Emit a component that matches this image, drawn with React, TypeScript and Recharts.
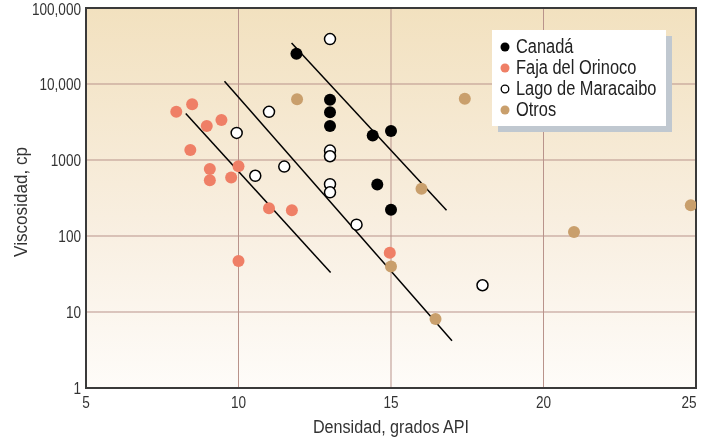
import { ScatterChart, Scatter, XAxis, YAxis, CartesianGrid, ReferenceArea, Legend } from 'recharts';

// densidad (API) vs viscosidad (cp)
const canada = [
  { x: 11.9, y: 25000 },
  { x: 13, y: 6200 },
  { x: 13, y: 4250 },
  { x: 13, y: 2800 },
  { x: 14.4, y: 2100 },
  { x: 15, y: 2400 },
  { x: 14.55, y: 475 },
  { x: 15, y: 222 },
];

const orinoco = [
  { x: 7.96, y: 4300 },
  { x: 8.48, y: 5400 },
  { x: 8.96, y: 2800 },
  { x: 9.44, y: 3350 },
  { x: 8.42, y: 1350 },
  { x: 9.06, y: 760 },
  { x: 9.06, y: 540 },
  { x: 9.76, y: 590 },
  { x: 10, y: 830 },
  { x: 11, y: 231 },
  { x: 11.75, y: 218 },
  { x: 10, y: 47 },
  { x: 14.96, y: 60 },
];

const maracaibo = [
  { x: 13, y: 39000 },
  { x: 11, y: 4300 },
  { x: 9.94, y: 2270 },
  { x: 10.55, y: 620 },
  { x: 11.5, y: 820 },
  { x: 13, y: 1330 },
  { x: 13, y: 1120 },
  { x: 13, y: 480 },
  { x: 13, y: 375 },
  { x: 13.87, y: 141 },
  { x: 18, y: 22.5 },
];

const otros = [
  { x: 11.92, y: 6300 },
  { x: 17.42, y: 6400 },
  { x: 16, y: 420 },
  { x: 24.83, y: 254 },
  { x: 21, y: 113 },
  { x: 15, y: 39.6 },
  { x: 16.46, y: 8.1 },
];

// trend lines
const trend1 = [
  { x: 8.27, y: 4100 },
  { x: 13.02, y: 33 },
];
const trend2 = [
  { x: 9.54, y: 10900 },
  { x: 17, y: 4.2 },
];
const trend3 = [
  { x: 11.74, y: 34600 },
  { x: 16.82, y: 218 },
];

const xTicks = [5, 10, 15, 20, 25];
const yTicks = [1, 10, 100, 1000, 10000, 100000];

const series = [
  { name: 'Canadá', data: canada, fill: '#000000', stroke: 'none' },
  { name: 'Faja del Orinoco', data: orinoco, fill: '#ef7f66', stroke: 'none' },
  { name: 'Lago de Maracaibo', data: maracaibo, fill: '#ffffff', stroke: '#000000' },
  { name: 'Otros', data: otros, fill: '#c99f6c', stroke: 'none' },
];

// no condensed face installed, so squeeze Liberation Sans horizontally
const FONT = "'Liberation Sans', Arial, sans-serif";
const TEXT = '#333';

const makeDot = (fill: string, stroke: string) => (props: any) => {
  const { cx, cy } = props;
  return (
    <circle
      cx={cx}
      cy={cy}
      r={stroke === 'none' ? 6 : 5.5}
      fill={fill}
      stroke={stroke}
      strokeWidth={1.5}
    />
  );
};

const noDot = () => <g />;

const formatY = (v: number) => (v >= 10000 ? v.toLocaleString('en-US') : String(v));

const XTick = (props: any) => {
  const { x, y, payload } = props;
  // last label sits a bit inside the frame
  const dx = payload.value === 25 ? -5 : 0;
  return (
    <g transform={`translate(${x + dx},${y})`}>
      <text transform="scale(0.8,1)" textAnchor="middle" dy="0.71em" fontSize={17} fill={TEXT} fontFamily={FONT}>
        {payload.value}
      </text>
    </g>
  );
};

const YTick = (props: any) => {
  const { x, y, payload } = props;
  return (
    <g transform={`translate(${x},${y})`}>
      <text transform="scale(0.8,1)" textAnchor="end" dy="0.355em" fontSize={17} fill={TEXT} fontFamily={FONT}>
        {formatY(payload.value)}
      </text>
    </g>
  );
};

const renderLegend = () => (
  <div
    style={{
      background: '#fff',
      boxShadow: '6px 6px 0 #c0c8d0',
      padding: '6px 0',
      fontFamily: FONT,
      fontSize: 20,
      color: '#222',
      whiteSpace: 'nowrap',
    }}
  >
    {series.map((s) => (
      <div key={s.name} style={{ display: 'flex', alignItems: 'center', height: 21, lineHeight: '21px' }}>
        <svg width={10} height={10} style={{ marginLeft: 8, marginRight: 6, flex: 'none' }}>
          <circle
            cx={5}
            cy={5}
            r={s.stroke === 'none' ? 4.5 : 3.8}
            fill={s.fill}
            stroke={s.stroke}
            strokeWidth={1.3}
          />
        </svg>
        <span style={{ display: 'inline-block', transform: 'scaleX(0.82)', transformOrigin: 'left center' }}>
          {s.name}
        </span>
      </div>
    ))}
  </div>
);

export default function App() {
  return (
    <div style={{ position: 'fixed', left: 0, top: 0, width: 702, height: 443 }}>
      <ScatterChart width={702} height={443} margin={{ top: 8, right: 6, bottom: 0, left: 0 }}>
        <defs>
          <linearGradient id="bgGrad" x1="0" y1="0" x2="0" y2="1">
            <stop offset="0%" stopColor="#f2e1bf" />
            <stop offset="55%" stopColor="#f8eedf" />
            <stop offset="100%" stopColor="#fefcf9" />
          </linearGradient>
        </defs>
        <CartesianGrid stroke="#b9938b" strokeWidth={1} fill="url(#bgGrad)" />
        <XAxis
          type="number"
          dataKey="x"
          domain={[5, 25]}
          ticks={xTicks}
          height={55}
          axisLine={false}
          tickLine={false}
          tick={<XTick />}
          allowDataOverflow
          label={{
            value: 'Densidad, grados API',
            position: 'insideBottom',
            content: (p: any) => {
              const vb = p.viewBox;
              const cx = vb.x + vb.width / 2;
              const cy = 433;
              return (
                <g transform={`translate(${cx},${cy})`}>
                  <text transform="scale(0.85,1)" textAnchor="middle" fontSize={19} fill={TEXT} fontFamily={FONT}>
                    Densidad, grados API
                  </text>
                </g>
              );
            },
          }}
        />
        <YAxis
          type="number"
          dataKey="y"
          scale="log"
          domain={[1, 100000]}
          ticks={yTicks}
          width={86}
          axisLine={false}
          tickLine={false}
          tickSize={3}
          tick={<YTick />}
          allowDataOverflow
          label={{
            value: 'Viscosidad, cp',
            position: 'insideLeft',
            content: (p: any) => {
              const vb = p.viewBox;
              const cx = 27;
              const cy = vb.y + vb.height / 2 + 4;
              return (
                <g transform={`translate(${cx},${cy}) rotate(-90)`}>
                  <text transform="scale(0.9,1)" textAnchor="middle" fontSize={19} fill={TEXT} fontFamily={FONT}>
                    Viscosidad, cp
                  </text>
                </g>
              );
            },
          }}
        />
        <Scatter data={trend1} line={{ stroke: '#000', strokeWidth: 1.5 }} shape={noDot} legendType="none" isAnimationActive={false} />
        <Scatter data={trend2} line={{ stroke: '#000', strokeWidth: 1.5 }} shape={noDot} legendType="none" isAnimationActive={false} />
        <Scatter data={trend3} line={{ stroke: '#000', strokeWidth: 1.5 }} shape={noDot} legendType="none" isAnimationActive={false} />
        {series.map((s) => (
          <Scatter
            key={s.name}
            name={s.name}
            data={s.data}
            fill={s.fill}
            shape={makeDot(s.fill, s.stroke)}
            isAnimationActive={false}
          />
        ))}
        <ReferenceArea
          x1={5}
          x2={25}
          y1={1}
          y2={100000}
          fill="none"
          stroke="#3a3a3a"
          strokeWidth={2}
          ifOverflow="visible"
        />
        <Legend
          layout="horizontal"
          verticalAlign="middle"
          align="center"
          content={renderLegend}
          wrapperStyle={{ position: 'absolute', left: 492, top: 30, width: 174, bottom: 'auto', right: 'auto' }}
        />
      </ScatterChart>
    </div>
  );
}
